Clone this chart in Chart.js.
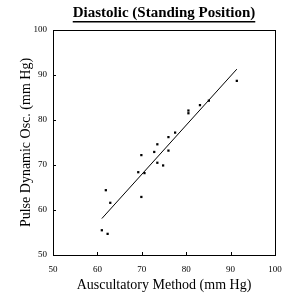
<!DOCTYPE html>
<html>
<head>
<meta charset="utf-8">
<script src="https://cdn.jsdelivr.net/npm/chart.js@4"></script>
<style>
  html, body { margin: 0; padding: 0; background: #fff; }
</style>
</head>
<body>
<canvas id="chart" width="300" height="300"></canvas>
<script>
// auscultatory vs pulse dynamic readings
const auscultatory = [61.0, 62.3, 61.9, 62.9, 69.9, 69.2, 70.6, 69.9, 72.8, 73.5, 73.5, 74.8, 76.0, 76.0, 77.5, 80.5, 80.5, 83.1, 85.1, 91.4];
const pulseDynamic = [55.5, 54.7, 64.4, 61.6, 62.9, 68.4, 68.2, 72.2, 72.9, 74.6, 70.5, 69.9, 73.2, 76.2, 77.2, 81.5, 82.1, 83.3, 84.3, 88.7];
// fitted line end points
const fitX = [61.0, 91.4];
const fitY = [58.1, 91.3];
const xTicks = [50, 60, 70, 80, 90, 100];
const yTicks = [50, 60, 70, 80, 90, 100];

const serif = "'Liberation Serif', 'DejaVu Serif', serif";

const frame = {
  id: "frame",
  afterLayout(chart) {
    // centre the title over the plot box
    chart.titleBlock.left = chart.chartArea.left;
    chart.titleBlock.right = chart.chartArea.right;
  },
  afterDatasetsDraw(chart) {
    const { ctx, chartArea: a, scales } = chart;
    ctx.save();
    ctx.strokeStyle = "#000";
    ctx.lineWidth = 1;
    ctx.strokeRect(a.left + 0.5, a.top + 0.5, a.right - a.left, a.bottom - a.top);
    // inward half of the tick marks
    ctx.beginPath();
    scales.x.ticks.forEach((t) => {
      const px = Math.round(scales.x.getPixelForValue(t.value)) + 0.5;
      ctx.moveTo(px, a.bottom);
      ctx.lineTo(px, a.bottom - 3);
    });
    scales.y.ticks.forEach((t) => {
      const py = Math.round(scales.y.getPixelForValue(t.value)) + 0.5;
      ctx.moveTo(a.left, py);
      ctx.lineTo(a.left + 3, py);
    });
    ctx.stroke();
    ctx.restore();
  },
  afterDraw(chart) {
    // underline the title
    const t = chart.titleBlock;
    const ctx = chart.ctx;
    ctx.save();
    ctx.font = "bold 15px " + serif;
    const w = ctx.measureText(chart.options.plugins.title.text).width;
    const cx = (t.left + t.right) / 2;
    ctx.fillStyle = "#000";
    ctx.fillRect(cx - w / 2, 21, w, 1.5);
    ctx.restore();
  }
};

new Chart(document.getElementById("chart"), {
  type: "scatter",
  data: {
    datasets: [
      {
        label: "readings",
        data: auscultatory.map((x, i) => ({ x: x, y: pulseDynamic[i] })),
        pointStyle: "rect",
        pointRadius: 1.6,
        backgroundColor: "#000",
        borderColor: "#000",
        borderWidth: 0,
      },
      {
        label: "fit",
        type: "line",
        data: fitX.map((x, i) => ({ x: x, y: fitY[i] })),
        borderColor: "#000",
        borderWidth: 1,
        pointRadius: 0,
        fill: false,
      },
    ],
  },
  options: {
    responsive: false,
    animation: false,
    devicePixelRatio: 1,
    layout: { padding: { left: 0, right: 25, top: 0, bottom: 0 } },
    plugins: {
      legend: { display: false },
      tooltip: { enabled: false },
      title: {
        display: true,
        text: "Diastolic (Standing Position)",
        color: "#000",
        font: { family: serif, size: 15, weight: "bold" },
        padding: { top: 4, bottom: 8 },
      },
    },
    scales: {
      x: {
        type: "linear",
        min: 50,
        max: 100,
        afterBuildTicks: (s) => { s.ticks = xTicks.map((v) => ({ value: v })); },
        afterFit: (s) => { s.height = 45; },
        grid: { display: false, drawTicks: true, tickLength: 3, tickColor: "#000" },
        border: { display: true, color: "#000", width: 1 },
        ticks: { color: "#000", font: { family: serif, size: 9 }, padding: 6, maxRotation: 0 },
        title: {
          display: true,
          text: "Auscultatory Method (mm Hg)",
          color: "#000",
          font: { family: serif, size: 14 },
          padding: { top: 2, bottom: 6 },
        },
      },
      y: {
        type: "linear",
        min: 50,
        max: 100,
        afterBuildTicks: (s) => { s.ticks = yTicks.map((v) => ({ value: v })); },
        afterFit: (s) => { s.width = 53; },
        grid: { display: false, drawTicks: true, tickLength: 3, tickColor: "#000" },
        border: { display: true, color: "#000", width: 1 },
        ticks: { color: "#000", font: { family: serif, size: 9 }, padding: 3 },
        title: {
          display: true,
          text: "Pulse Dynamic Osc. (mm Hg)",
          color: "#000",
          font: { family: serif, size: 14 },
          padding: { top: 18, bottom: 2 },
        },
      },
    },
  },
  plugins: [frame],
});
</script>
</body>
</html>
